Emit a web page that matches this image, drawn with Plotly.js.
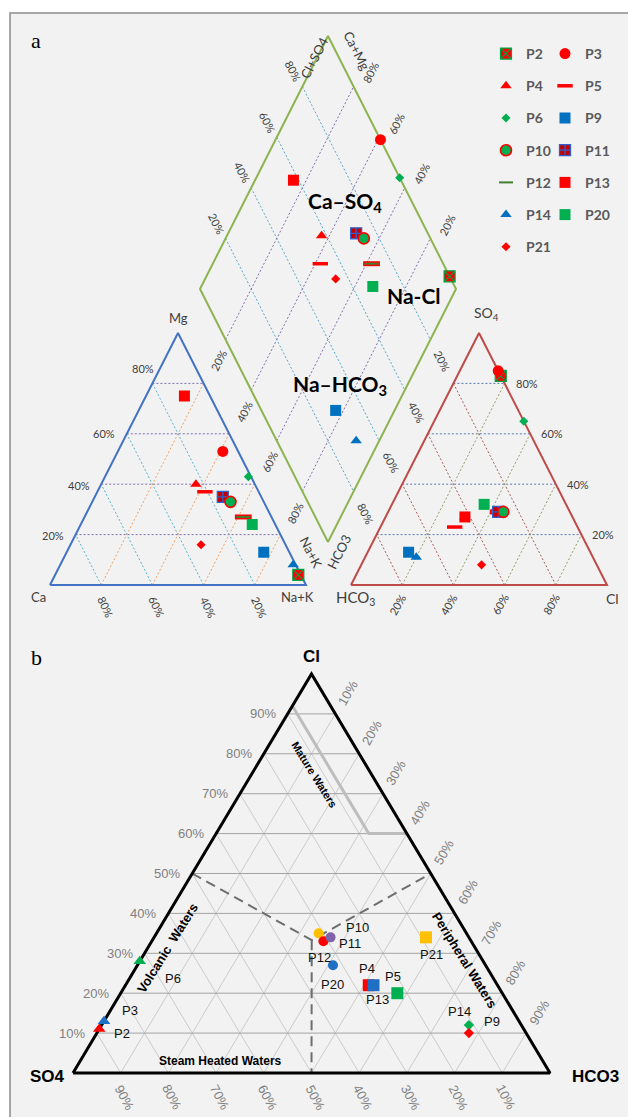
<!DOCTYPE html>
<html><head><meta charset="utf-8">
<script src="https://cdn.plot.ly/plotly-3.0.1.min.js"></script>
<style>html,body{margin:0;padding:0;background:#fff;}#chart{width:628px;height:1117px;}</style>
</head><body><div id="chart"></div>
<script>
// ================= DATA =================
const samples = ['P2','P3','P4','P5','P6','P9','P10','P11','P12','P13','P14','P20','P21'];
// (a) Piper diagram - cations (% meq)
const catCa  = [1, 6, 23, 21, 1, 10, 13, 15, 11, 10, 1, 9, 33];
const catMg  = [4, 53, 40, 37, 43, 13, 33, 35, 27, 75, 8, 24, 16];
const catNaK = [95, 41, 37, 42, 56, 77, 54, 50, 62, 15, 91, 67, 51];
// (a) Piper diagram - anions (% meq)
const anHCO3 = [0, 0, 42, 48, 0, 71, 26, 28, 28, 42, 69, 32, 45];
const anSO4  = [83, 85, 27, 23, 65, 13, 29, 29, 29, 27, 11, 32, 8];
const anCl   = [17, 15, 31, 29, 35, 16, 45, 43, 43, 31, 20, 36, 47];
// (b) Cl-SO4-HCO3 ternary (%)
const gigCl   = [11, 13, 22, 20, 28, 10, 35, 34, 33, 22, 12, 27, 34];
const gigSO4  = [89, 87, 27, 22, 72, 12, 31, 29, 31, 26, 11, 32, 9];
const gigHCO3 = [0, 0, 51, 58, 0, 78, 34, 37, 36, 52, 77, 41, 57];
// (b) field boundaries
const matureCl = [92, 60, 60], matureSO4 = [8, 8, 0], matureHCO3 = [0, 32, 40];
const divCl   = [50, 33.3, 50, null, 33.3, 0];
const divSO4  = [50, 33.3, 0, null, 33.3, 50];
const divHCO3 = [0, 33.4, 50, null, 33.4, 50];
// tick values
const ticksA = [20, 40, 60, 80];
const ticksB = [10, 20, 30, 40, 50, 60, 70, 80, 90];

// ================= GEOMETRY / STYLE =================
const FA = 'Lato, "Open Sans", sans-serif';
const FB = '"Liberation Sans", Arial, sans-serif';
const GEO = {
  cat: {L:[50,585], R:[306,585], T:[178,333]},
  an:  {L:[351,585], R:[607,585], T:[479,333]},
  dia: {B:[328,542], L:[200,289], R:[456,289]},
  gig: {L:[73,1073], R:[550,1073], T:[311.5,674]}
};
function bary(T, l, r, t) {
  const s = l + r + t;
  return [(T.L[0]*l + T.R[0]*r + T.T[0]*t)/s, (T.L[1]*l + T.R[1]*r + T.T[1]*t)/s];
}
function dia(v, u) { // v = Ca+Mg fraction, u = Cl+SO4 fraction
  const D = GEO.dia;
  return [D.B[0] + v*(D.L[0]-D.B[0]) + u*(D.R[0]-D.B[0]),
          D.B[1] + v*(D.L[1]-D.B[1]) + u*(D.R[1]-D.B[1])];
}
function iso(T, comp, vals) {
  const xs = [], ys = [];
  const others = [0,1,2].filter(k => k !== comp);
  vals.forEach(g => {
    const a = [0,0,0], b = [0,0,0];
    a[comp] = g; a[others[0]] = 100 - g;
    b[comp] = g; b[others[1]] = 100 - g;
    const p = bary(T, ...a), q = bary(T, ...b);
    xs.push(p[0], q[0], null); ys.push(p[1], q[1], null);
  });
  return {xs, ys};
}
const traces = [];
function lineTrace(xs, ys, color, width, dash) {
  traces.push({type:'scatter', mode:'lines', x:xs, y:ys, hoverinfo:'skip', showlegend:false,
    line:{color, width, dash: dash || 'solid'}});
}
function outline(T, color, width) {
  const c = [bary(T,100,0,0), bary(T,0,100,0), bary(T,0,0,100), bary(T,100,0,0)];
  lineTrace(c.map(p=>p[0]), c.map(p=>p[1]), color, width);
}
const ann = [];
function txt(x, y, text, o) {
  ann.push(Object.assign({x, y, xref:'x', yref:'y', text, showarrow:false,
    xanchor:'center', yanchor:'middle', font:{family:FA, size:11, color:'#404040'}}, o || {}));
}
const DOT = '2px,2px';

// ---------- (a) grids ----------
let g;
g = iso(GEO.cat, 2, ticksA); lineTrace(g.xs, g.ys, '#7f6fb0', 1, DOT);
g = iso(GEO.cat, 0, ticksA); lineTrace(g.xs, g.ys, '#56b4cf', 1, DOT);
g = iso(GEO.cat, 1, ticksA); lineTrace(g.xs, g.ys, '#f4a261', 1, DOT);
g = iso(GEO.an, 2, ticksA); lineTrace(g.xs, g.ys, '#5b78b0', 1, DOT);
g = iso(GEO.an, 0, ticksA); lineTrace(g.xs, g.ys, '#a85a5a', 1, DOT);
g = iso(GEO.an, 1, ticksA); lineTrace(g.xs, g.ys, '#9a9a68', 1, DOT);
(function(){
  const ux=[], uy=[], vx=[], vy=[];
  ticksA.forEach(t => {
    const f = t/100;
    let p = dia(1, f), q = dia(0, f); ux.push(p[0], q[0], null); uy.push(p[1], q[1], null);
    p = dia(f, 0); q = dia(f, 1); vx.push(p[0], q[0], null); vy.push(p[1], q[1], null);
  });
  lineTrace(ux, uy, '#56a8c8', 1, DOT);
  lineTrace(vx, vy, '#7f6fb0', 1, DOT);
})();
outline(GEO.cat, '#4472c4', 2);
outline(GEO.an, '#be4b48', 2);
(function(){
  const c = [dia(0,0), dia(1,0), dia(1,1), dia(0,1), dia(0,0)];
  lineTrace(c.map(p=>p[0]), c.map(p=>p[1]), '#8cb450', 2);
})();

// ---------- (a) sample markers ----------
const styleA = {
  P2:  {symbol:'square-x', color:'#ff0000', line:'#00a040', lw:1.2, size:11, leg:'legend', rank:1},
  P3:  {symbol:'circle', color:'#ff0000', line:'#ff0000', lw:0, size:11, leg:'legend2', rank:1},
  P4:  {symbol:'triangle-up', color:'#ff0000', line:'#ff0000', lw:0, size:10, leg:'legend', rank:2},
  P5:  {symbol:'line-ew', color:'#ff0000', line:'#ff0000', lw:3.5, size:11, leg:'legend2', rank:2},
  P6:  {symbol:'diamond', color:'#00b050', line:'#00b050', lw:0, size:7, leg:'legend', rank:3},
  P9:  {symbol:'square', color:'#0070c0', line:'#0070c0', lw:0, size:11, leg:'legend2', rank:3},
  P10: {symbol:'circle', color:'#00b050', line:'#ff0000', lw:1.6, size:11, leg:'legend', rank:4},
  P11: {symbol:'square-cross', color:'#c00000', line:'#3060d0', lw:1.3, size:11, leg:'legend2', rank:4},
  P12: {symbol:'line-ew', color:'#3f7f2f', line:'#3f7f2f', lw:2, size:10, leg:'legend', rank:5},
  P13: {symbol:'square', color:'#ff0000', line:'#ff0000', lw:0, size:11, leg:'legend2', rank:5},
  P14: {symbol:'triangle-up', color:'#0070c0', line:'#0070c0', lw:0, size:10, leg:'legend', rank:6},
  P20: {symbol:'square', color:'#00b050', line:'#00b050', lw:0, size:11, leg:'legend2', rank:6},
  P21: {symbol:'diamond', color:'#ff0000', line:'#ff0000', lw:0, size:7, leg:'legend', rank:7}
};
function piperXY(i) {
  const c = bary(GEO.cat, catCa[i], catNaK[i], catMg[i]);
  const d = dia((catCa[i]+catMg[i])/100, (anCl[i]+anSO4[i])/100);
  const a = bary(GEO.an, anHCO3[i], anCl[i], anSO4[i]);
  return {x:[c[0], d[0], a[0]], y:[c[1], d[1], a[1]]};
}
const drawOrder = ['P12u','P12','P4','P2','P3','P5','P6','P9','P11','P10','P13','P14','P20','P21'];
drawOrder.forEach(key => {
  if (key === 'P12u') {
    const xy = piperXY(samples.indexOf('P12'));
    traces.push({type:'scatter', mode:'markers', x:xy.x, y:xy.y, hoverinfo:'skip', showlegend:false,
      marker:{symbol:'line-ew', size:12, color:'#ff0000', line:{color:'#ff0000', width:5}}});
    return;
  }
  const i = samples.indexOf(key), s = styleA[key], xy = piperXY(i);
  traces.push({type:'scatter', mode:'markers', name:key, x:xy.x, y:xy.y,
    legend:s.leg, legendrank:s.rank, legendgroup:key,
    marker:{symbol:s.symbol, size:s.size, color:s.color, line:{color:s.line, width:s.lw}}});
});

// ---------- (a) texts ----------
const mgShift = {20:[-23,1], 40:[-22,1], 60:[-23,0], 80:[-9,-15]};
ticksA.forEach(t => {
  let p = bary(GEO.cat, 100-t, 0, t); txt(p[0]+mgShift[t][0], p[1]+mgShift[t][1], t+'%');
  p = bary(GEO.cat, t, 100-t, 0); txt(p[0]+5, p[1]+22, t+'%', {textangle:65});
  p = bary(GEO.an, 0, 100-t, t); txt(p[0]+22, p[1], t+'%');
  p = bary(GEO.an, 100-t, t, 0); txt(p[0]-5, p[1]+19, t+'%', {textangle:-60});
  const f = t/100;
  p = dia(1, f); txt(p[0]-9, p[1]-15, t+'%', {textangle:63});
  p = dia(f, 1); txt(p[0]+17, p[1]-14, t+'%', {textangle:-63});
  p = dia(1-f, 0); txt(p[0]-7, p[1]+21, t+'%', {textangle:-63});
  p = dia(0, 1-f); txt(p[0]+12, p[1]+22, t+'%', {textangle:63});
});
const fC = {family:FA, size:13, color:'#404040'};
txt(178, 318, 'Mg', {font:fC});
txt(38, 597, 'Ca', {font:fC});
txt(297, 597, 'Na+K', {font:fC});
txt(355, 598, 'HCO<sub>3</sub>', {font:{family:FA, size:15, color:'#404040'}});
txt(612, 598, 'Cl', {font:{family:FA, size:14, color:'#404040'}});
txt(486, 313, 'SO<sub>4</sub>', {font:{family:FA, size:14, color:'#404040'}});
txt(314, 58, 'Cl+SO4', {font:fC, textangle:-63});
txt(357, 51, 'Ca+Mg', {font:fC, textangle:63});
txt(311, 552, 'Na+K', {font:fC, textangle:63});
txt(339, 552, 'HCO3', {font:fC, textangle:-63});
const fR = {family:FA, size:21, color:'#000'};
txt(345, 202, '<b>Ca–SO<sub>4</sub></b>', {font:fR});
txt(414, 295, '<b>Na-Cl</b>', {font:fR});
txt(340, 385, '<b>Na–HCO<sub>3</sub></b>', {font:fR});
txt(36, 40, 'a', {font:{family:'"Liberation Serif", serif', size:22, color:'#000'}});
txt(36, 657, 'b', {font:{family:'"Liberation Serif", serif', size:22, color:'#000'}});

// ---------- (b) ternary ----------
g = iso(GEO.gig, 0, ticksB); lineTrace(g.xs, g.ys, '#c6c6c6', 0.9);
g = iso(GEO.gig, 1, ticksB); lineTrace(g.xs, g.ys, '#c6c6c6', 0.9);
g = iso(GEO.gig, 2, ticksB); lineTrace(g.xs, g.ys, '#a3a3a3', 1);
(function(){
  const m = matureCl.map((c,k) => bary(GEO.gig, matureSO4[k], matureHCO3[k], c));
  lineTrace(m.map(p=>p[0]), m.map(p=>p[1]), '#bdbdbd', 3);
  const d = divCl.map((c,k) => c === null ? [null,null] : bary(GEO.gig, divSO4[k], divHCO3[k], c));
  lineTrace(d.map(p=>p[0]), d.map(p=>p[1]), '#6e6e6e', 2, '10px,6px');
})();
outline(GEO.gig, '#000000', 3);

const styleB = {
  P2:  {symbol:'triangle-up', color:'#ff0000', size:11, dx:23, dy:4},
  P3:  {symbol:'triangle-up', color:'#1f6fc5', size:11, dx:26, dy:-11},
  P4:  {symbol:'square', color:'#ff0000', size:12, dx:-2, dy:-17},
  P5:  {symbol:'square', color:'#00b050', size:12, dx:-4, dy:-17},
  P6:  {symbol:'triangle-up', color:'#00b050', size:11, dx:33, dy:17},
  P9:  {symbol:'diamond', color:'#ff0000', size:8, dx:23, dy:-12},
  P10: {symbol:'circle', color:'#ffc000', size:10, dx:39, dy:-6},
  P11: {symbol:'circle', color:'#7f63a8', size:10, dx:19, dy:6},
  P12: {symbol:'circle', color:'#ff0000', size:10, dx:-4, dy:16},
  P13: {symbol:'square', color:'#1f6fc5', size:12, dx:4, dy:14},
  P14: {symbol:'diamond', color:'#00b050', size:8, dx:-9, dy:-14},
  P20: {symbol:'circle', color:'#1f6fc5', size:10, dx:0, dy:19},
  P21: {symbol:'square', color:'#ffc000', size:12, dx:6, dy:17}
};
const drawB = ['P10','P12','P11','P20','P4','P13','P5','P21','P14','P9','P6','P3','P2'];
drawB.forEach(key => {
  const i = samples.indexOf(key), s = styleB[key];
  const p = bary(GEO.gig, gigSO4[i], gigHCO3[i], gigCl[i]);
  traces.push({type:'scatter', mode:'markers', x:[p[0]], y:[p[1]], showlegend:false, hoverinfo:'skip',
    marker:{symbol:s.symbol, size:s.size, color:s.color, line:{width:0}}});
  txt(p[0]+s.dx, p[1]+s.dy, key, {font:{family:FB, size:13, color:'#111'}});
});
const fT = {family:FB, size:13, color:'#808080'};
ticksB.forEach(t => {
  let p = bary(GEO.gig, 100-t, 0, t); txt(p[0]-10, p[1], t+'%', {font:fT, xanchor:'right'});
  p = bary(GEO.gig, 0, t, 100-t); txt(p[0]+13, p[1]-21, t+'%', {font:fT, textangle:-60});
  p = bary(GEO.gig, t, 100-t, 0); txt(p[0]+4, p[1]+24, t+'%', {font:fT, textangle:62});
});
const fK = {family:FB, size:17, color:'#000'};
txt(311, 656, '<b>Cl</b>', {font:fK});
txt(47, 1076, '<b>SO4</b>', {font:fK});
txt(595, 1076, '<b>HCO3</b>', {font:fK});
txt(314, 774, '<b>Mature Waters</b>', {font:{family:FB, size:11, color:'#000'}, textangle:58});
txt(167, 948, '<b>Volcanic  Waters</b>', {font:{family:FB, size:13, color:'#000'}, textangle:-58});
txt(465, 960, '<b>Peripheral Waters</b>', {font:{family:FB, size:13, color:'#000'}, textangle:58});
txt(220, 1061, '<b>Steam Heated Waters</b>', {font:{family:FB, size:12, color:'#000'}});

// ================= LAYOUT =================
const legFont = {family:FA, size:14, color:'#595959', weight:'bold'};
const layout = {
  width:628, height:1117, margin:{l:0, r:0, t:0, b:0},
  paper_bgcolor:'#ffffff', plot_bgcolor:'#ffffff',
  xaxis:{range:[0,628], visible:false, fixedrange:true},
  yaxis:{range:[1117,0], visible:false, fixedrange:true},
  shapes:[{type:'rect', xref:'x', yref:'y', x0:10, y0:13, x1:650, y1:1140,
    fillcolor:'#f2f2f2', line:{color:'#8c8c8c', width:1.5}, layer:'below'}],
  annotations: ann,
  legend:{x:486/628, y:1-38/1117, xanchor:'left', yanchor:'top', bgcolor:'rgba(0,0,0,0)',
    borderwidth:0, font:legFont, tracegroupgap:11, traceorder:'grouped'},
  legend2:{x:545/628, y:1-38/1117, xanchor:'left', yanchor:'top', bgcolor:'rgba(0,0,0,0)',
    borderwidth:0, font:legFont, tracegroupgap:11, traceorder:'grouped'},
  showlegend:true
};
Plotly.newPlot('chart', traces, layout, {displayModeBar:false, staticPlot:true});
</script></body></html>
